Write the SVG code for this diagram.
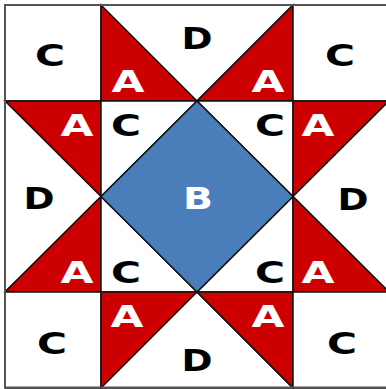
<svg xmlns="http://www.w3.org/2000/svg" width="386" height="389" viewBox="0 0 386 389">
<style>
.red{fill:#cc0000;stroke:#111;stroke-width:1.5;stroke-linejoin:miter}
.wht{fill:#ffffff;stroke:#111;stroke-width:1.5}
.blu{fill:#4a7ebb;stroke:#111;stroke-width:1.5}
text{font-family:"DejaVu Sans","Liberation Sans",sans-serif;font-weight:bold;font-size:30px;text-anchor:middle}
.dk{fill:#000}
.lt{fill:#fff}
</style>
<rect width="386" height="389" fill="#fff"/>
<g id="c-tl"><rect class="wht" x="5" y="5" width="96" height="96"/><text class="dk" x="50" y="66" textLength="30" lengthAdjust="spacingAndGlyphs">C</text></g>
<g id="a-t1"><polygon class="red" points="101,5 101,101 197,101"/><text class="lt" x="128" y="92" textLength="33" lengthAdjust="spacingAndGlyphs">A</text></g>
<g id="d-top"><polygon class="wht" points="101,5 293,5 197,101"/><text class="dk" x="197" y="49" textLength="31" lengthAdjust="spacingAndGlyphs">D</text></g>
<g id="a-t2"><polygon class="red" points="293,5 293,101 197,101"/><text class="lt" x="268" y="92" textLength="33" lengthAdjust="spacingAndGlyphs">A</text></g>
<g id="c-tr"><rect class="wht" x="293" y="5" width="96" height="96"/><text class="dk" x="340" y="66" textLength="30" lengthAdjust="spacingAndGlyphs">C</text></g>
<g id="a-l1"><polygon class="red" points="5,101 101,101 101,196.5"/><text class="lt" x="77" y="136" textLength="33" lengthAdjust="spacingAndGlyphs">A</text></g>
<g id="d-left"><polygon class="wht" points="5,101 101,196.5 5,292"/><text class="dk" x="39" y="209" textLength="31" lengthAdjust="spacingAndGlyphs">D</text></g>
<g id="a-l2"><polygon class="red" points="5,292 101,292 101,196.5"/><text class="lt" x="77" y="283" textLength="33" lengthAdjust="spacingAndGlyphs">A</text></g>
<g id="c-i1"><polygon class="wht" points="101,101 197,101 101,196.5"/><text class="dk" x="126" y="136" textLength="30" lengthAdjust="spacingAndGlyphs">C</text></g>
<g id="c-i2"><polygon class="wht" points="197,101 293,101 293,196.5"/><text class="dk" x="270" y="136" textLength="30" lengthAdjust="spacingAndGlyphs">C</text></g>
<g id="c-i3"><polygon class="wht" points="101,196.5 101,292 197,292"/><text class="dk" x="126" y="283" textLength="30" lengthAdjust="spacingAndGlyphs">C</text></g>
<g id="c-i4"><polygon class="wht" points="293,196.5 293,292 197,292"/><text class="dk" x="270" y="283" textLength="30" lengthAdjust="spacingAndGlyphs">C</text></g>
<g id="b"><polygon class="blu" points="197,101 293,196.5 197,292 101,196.5"/><text class="lt" x="198" y="209" textLength="30" lengthAdjust="spacingAndGlyphs">B</text></g>
<g id="a-r1"><polygon class="red" points="293,101 389,101 293,196.5"/><text class="lt" x="318" y="136" textLength="33" lengthAdjust="spacingAndGlyphs">A</text></g>
<g id="d-right"><polygon class="wht" points="389,101 389,292 293,196.5"/><text class="dk" x="353" y="210" textLength="31" lengthAdjust="spacingAndGlyphs">D</text></g>
<g id="a-r2"><polygon class="red" points="293,196.5 293,292 389,292"/><text class="lt" x="318" y="283" textLength="33" lengthAdjust="spacingAndGlyphs">A</text></g>
<g id="c-bl"><rect class="wht" x="5" y="292" width="96" height="96"/><text class="dk" x="52" y="354" textLength="30" lengthAdjust="spacingAndGlyphs">C</text></g>
<g id="a-b1"><polygon class="red" points="101,292 197,292 101,388"/><text class="lt" x="127" y="327" textLength="33" lengthAdjust="spacingAndGlyphs">A</text></g>
<g id="d-bottom"><polygon class="wht" points="101,388 293,388 197,292"/><text class="dk" x="197" y="371" textLength="31" lengthAdjust="spacingAndGlyphs">D</text></g>
<g id="a-b2"><polygon class="red" points="197,292 293,292 293,388"/><text class="lt" x="268" y="327" textLength="33" lengthAdjust="spacingAndGlyphs">A</text></g>
<g id="c-br"><rect class="wht" x="293" y="292" width="96" height="96"/><text class="dk" x="342" y="354" textLength="30" lengthAdjust="spacingAndGlyphs">C</text></g>
<g id="connectors"></g>
<rect x="5" y="5" width="384" height="382.5" fill="none" stroke="#555" stroke-width="2"/>
</svg>
